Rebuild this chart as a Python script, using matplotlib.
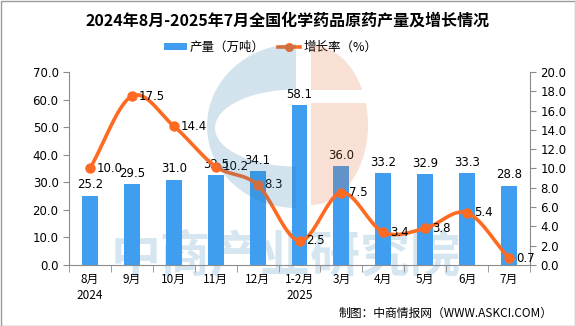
import numpy as np
import matplotlib
matplotlib.use("Agg")
import matplotlib.pyplot as plt
from matplotlib.patches import Ellipse, Rectangle, Polygon

plt.rcParams['font.family'] = ['Noto Sans CJK SC', 'DejaVu Sans']

categories = ["8月\n2024", "9月", "10月", "11月", "12月", "1-2月\n2025",
              "3月", "4月", "5月", "6月", "7月"]
output = [25.2, 29.5, 31.0, 32.5, 34.1, 58.1, 36.0, 33.2, 32.9, 33.3, 28.8]
growth = [10.0, 17.5, 14.4, 10.2, 8.3, 2.5, 7.5, 3.4, 3.8, 5.4, 0.7]

title = "2024年8月-2025年7月全国化学药品原药产量及增长情况"
bar_name = "产量（万吨）"
line_name = "增长率（%）"
source = "制图：中商情报网（WWW.ASKCI.COM）"

bar_color = "#3F9EF0"
line_color = "#FF6A22"
axis_gray = "#8C8C8C"
logo_blue = (47 / 255, 127 / 255, 176 / 255)
logo_salmon = (225 / 255, 110 / 255, 60 / 255)
logo_alpha = 0.21

fig = plt.figure(figsize=(5.75, 3.26), dpi=100)

# background layer in pixel coordinates: watermark text, legend, frame
bg = fig.add_axes([0, 0, 1, 1], zorder=0)
bg.set_xlim(0, 575)
bg.set_ylim(326, 0)
bg.axis("off")
bg.text(286, 258, "中商产业研究院", fontsize=36, fontweight="bold",
        color="#D6E6F1", ha="center", va="center")

bg.add_patch(Rectangle((164, 43), 23, 7, facecolor=bar_color, edgecolor="none"))
bg.text(190, 47, bar_name, fontsize=9, va="center", ha="left")
bg.plot([278, 300], [47, 47], color=line_color, lw=2.6)
bg.plot([289], [47], "o", color=line_color, ms=5.5)
bg.text(304, 47, line_name, fontsize=9, va="center", ha="left")
bg.add_patch(Rectangle((0.5, 0.5), 574, 325, facecolor="none", edgecolor="#9A9A9A", lw=1))

ax = fig.add_axes([69 / 575, 1 - 265 / 326, (530 - 69) / 575, (265 - 72) / 326], zorder=1)
ax.patch.set_alpha(0)
ax2 = ax.twinx()

x = np.arange(len(categories))
bars = ax.bar(x, output, width=0.38, color=bar_color, zorder=2)
ax.set_ylim(0, 70)
ax.set_yticks(np.arange(0, 71, 10))
ax.set_yticklabels([f"{v:.1f}" for v in np.arange(0, 71, 10)], fontsize=8.5, family="DejaVu Sans")
ax.set_xlim(-0.5, len(categories) - 0.5)
ax.set_xticks(x)
ax.set_xticklabels(categories, fontsize=8.5, linespacing=1.3)
ax.tick_params(axis="x", length=0, pad=6)
ax.set_xticks(np.arange(-0.5, len(categories), 1), minor=True)
ax.tick_params(axis="x", which="minor", length=5, color=axis_gray, direction="out")
ax.tick_params(axis="y", length=4, color=axis_gray, direction="out")

for b, v in zip(bars, output):
    ax.text(b.get_x() + b.get_width() / 2, v + 1.5, f"{v:.1f}", ha="center", va="bottom",
            fontsize=8.5, family="DejaVu Sans", zorder=5)

# smooth curve through the growth points (Catmull-Rom)
px = x.astype(float)
py = np.array(growth, dtype=float)
ext_x = np.concatenate([[2 * px[0] - px[1]], px, [2 * px[-1] - px[-2]]])
ext_y = np.concatenate([[2 * py[0] - py[1]], py, [2 * py[-1] - py[-2]]])
cx, cy = [], []
t = np.linspace(0, 1, 30)
for i in range(1, len(ext_x) - 2):
    for arr, out in ((ext_x, cx), (ext_y, cy)):
        p0, p1, p2, p3 = arr[i - 1], arr[i], arr[i + 1], arr[i + 2]
        seg = 0.5 * ((2 * p1) + (-p0 + p2) * t + (2 * p0 - 5 * p1 + 4 * p2 - p3) * t ** 2
                     + (-p0 + 3 * p1 - 3 * p2 + p3) * t ** 3)
        out.extend(seg)
ax2.plot(cx, cy, color=line_color, lw=2.6, zorder=3)
ax2.plot(px, py, "o", color=line_color, ms=6.5, zorder=4)
for xi, v in zip(px, py):
    ax2.text(xi + 0.17, v, f"{v:.1f}", ha="left", va="center", fontsize=8.5,
             family="DejaVu Sans", zorder=5)
ax2.set_ylim(0, 20)
ax2.set_yticks(np.arange(0, 21, 2))
ax2.set_yticklabels([f"{v:.1f}" for v in np.arange(0, 21, 2)], fontsize=8.5, family="DejaVu Sans")
ax2.tick_params(axis="y", length=4, color=axis_gray, direction="out")

for a in (ax, ax2):
    a.spines["top"].set_visible(False)
    for s in ("left", "right", "bottom"):
        a.spines[s].set_color(axis_gray)
ax2.spines["left"].set_visible(False)
ax2.spines["bottom"].set_visible(False)
ax.spines["right"].set_visible(False)

# translucent logo laid over the plot
ov = fig.add_axes([0, 0, 1, 1], zorder=5)
ov.set_xlim(0, 575)
ov.set_ylim(326, 0)
ov.axis("off")
ov.patch.set_alpha(0)
th_out = np.linspace(-np.pi / 2, -3 * np.pi / 2, 80)
th_in = np.linspace(-3 * np.pi / 2, -np.pi / 2, 80)
outer = np.column_stack([296 + 89 * np.cos(th_out), 126 + 82 * np.sin(th_out)])
inner = np.column_stack([296 + 81 * np.cos(th_in), 128 + 38.5 * np.sin(th_in)])
ov.add_patch(Polygon(np.vstack([outer, inner]), closed=True, facecolor=logo_blue,
                     edgecolor="none", alpha=logo_alpha))
for y0, y1 in ((30, 90), (103, 230)):
    e = Ellipse((311, 125), 114, 160, facecolor=logo_salmon, edgecolor="none", alpha=logo_alpha)
    ov.add_patch(e)
    e.set_clip_path(Rectangle((311, y0), 100, y1 - y0, transform=ov.transData))

fig.text(0.5, 1 - 21 / 326, title, ha="center", va="center", fontsize=11.5, fontweight="bold")
fig.text(553 / 575, 1 - 313 / 326, source, ha="right", va="center", fontsize=8.5)

fig.savefig("out.png", dpi=100)
